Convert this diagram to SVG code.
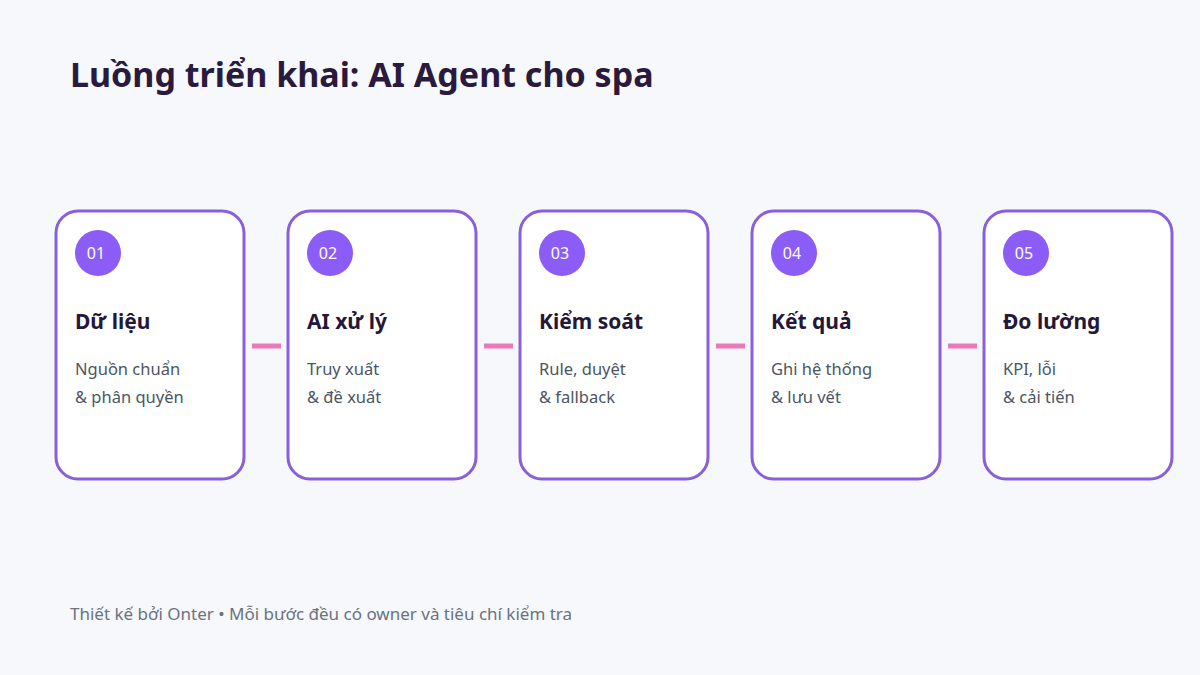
<svg xmlns="http://www.w3.org/2000/svg" width="1200" height="675" viewBox="0 0 1200 675">
<style>
.card{fill:#ffffff;stroke:#8a5fdc;stroke-width:3}
.badge{fill:#8b5cf6}
.num{font-family:"Noto Sans","Open Sans",sans-serif;font-size:16px;fill:#ffffff;text-anchor:middle}
.head{font-family:"Noto Sans","Open Sans",sans-serif;font-size:21px;font-weight:700;fill:#23173a}
.desc{font-family:"Noto Sans","Open Sans",sans-serif;font-size:16.5px;fill:#4b5563}
.conn{stroke:#ec79b8;stroke-width:5}
</style>
<rect width="1200" height="675" fill="#f6f8fb"/>
<text x="70" y="87" font-family="Noto Sans, Open Sans, sans-serif" font-size="34" font-weight="700" fill="#2a1a3d">Luồng triển khai: AI Agent cho spa</text>
<g id="connectors">
<line class="conn" x1="252" y1="346" x2="281" y2="346"/>
<line class="conn" x1="484" y1="346" x2="513" y2="346"/>
<line class="conn" x1="716" y1="346" x2="745" y2="346"/>
<line class="conn" x1="948" y1="346" x2="977" y2="346"/>
</g>
<g id="node1">
<rect class="card" x="56" y="211" width="188" height="268" rx="22"/>
<circle class="badge" cx="98" cy="253" r="23"/>
<text class="num" x="96" y="259">01</text>
<text class="head" x="75" y="329">Dữ liệu</text>
<text class="desc" x="75" y="375">Nguồn chuẩn</text>
<text class="desc" x="75" y="403">&amp; phân quyền</text>
</g>
<g id="node2">
<rect class="card" x="288" y="211" width="188" height="268" rx="22"/>
<circle class="badge" cx="330" cy="253" r="23"/>
<text class="num" x="328" y="259">02</text>
<text class="head" x="307" y="329">AI xử lý</text>
<text class="desc" x="307" y="375">Truy xuất</text>
<text class="desc" x="307" y="403">&amp; đề xuất</text>
</g>
<g id="node3">
<rect class="card" x="520" y="211" width="188" height="268" rx="22"/>
<circle class="badge" cx="562" cy="253" r="23"/>
<text class="num" x="560" y="259">03</text>
<text class="head" x="539" y="329">Kiểm soát</text>
<text class="desc" x="539" y="375">Rule, duyệt</text>
<text class="desc" x="539" y="403">&amp; fallback</text>
</g>
<g id="node4">
<rect class="card" x="752" y="211" width="188" height="268" rx="22"/>
<circle class="badge" cx="794" cy="253" r="23"/>
<text class="num" x="792" y="259">04</text>
<text class="head" x="771" y="329">Kết quả</text>
<text class="desc" x="771" y="375">Ghi hệ thống</text>
<text class="desc" x="771" y="403">&amp; lưu vết</text>
</g>
<g id="node5">
<rect class="card" x="984" y="211" width="188" height="268" rx="22"/>
<circle class="badge" cx="1026" cy="253" r="23"/>
<text class="num" x="1024" y="259">05</text>
<text class="head" x="1003" y="329">Đo lường</text>
<text class="desc" x="1003" y="375">KPI, lỗi</text>
<text class="desc" x="1003" y="403">&amp; cải tiến</text>
</g>
<text x="70" y="620" font-family="Noto Sans, Open Sans, sans-serif" font-size="17" fill="#6b7280">Thiết kế bởi Onter • Mỗi bước đều có owner và tiêu chí kiểm tra</text>
</svg>
